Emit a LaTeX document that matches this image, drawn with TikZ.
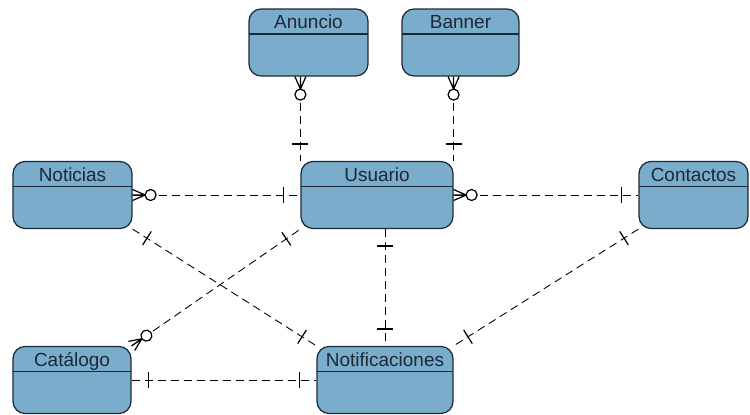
\documentclass[tikz,border=0pt]{standalone}
\usepackage{fontspec}
\setmainfont{Liberation Sans}
\usetikzlibrary{decorations.markings}
\definecolor{erblue}{RGB}{122,172,204}
\definecolor{erink}{RGB}{28,40,56}
\begin{document}
\begin{tikzpicture}[x=0.02cm,y=-0.02cm,
  entity/.style={draw=erink,fill=erblue,line width=0.7pt,rounded corners=0.24cm,
    minimum height=1.34cm,inner sep=0pt,text height=0.4cm,text depth=0.94cm,
    font=\fontsize{10.8}{12}\selectfont,text=erink,
    path picture={\draw[erink,line width=0.7pt]
      ([yshift=-0.5cm]path picture bounding box.north west)--([yshift=-0.5cm]path picture bounding box.north east);}},
  rel/.style={dash pattern=on 0.16cm off 0.1cm,line width=0.5pt},
  manystart/.style={postaction={decorate,decoration={markings,
      mark=at position 0.25cm with {\draw[solid,line width=0.7pt] (-0.25cm,0.11cm)--(0,0)--(-0.25cm,-0.11cm) (-0.25cm,0)--(0,0);
        \draw[solid,line width=0.7pt,fill=white] (0.11cm,0) circle (0.11cm);}}}},
  onestart/.style={postaction={decorate,decoration={markings,
      mark=at position 0.34cm with {\draw[solid,line width=0.7pt] (0,-0.16cm)--(0,0.16cm);}}}},
  oneend/.style={postaction={decorate,decoration={markings,
      mark=at position -0.34cm with {\draw[solid,line width=0.7pt] (0,-0.16cm)--(0,0.16cm);}}}}]
  \useasboundingbox (0,0) rectangle (750,415);
  \node[entity,minimum width=2.38cm] (anuncio) at (308.5,42.5) {Anuncio};
  \node[entity,minimum width=2.34cm] (banner) at (460.5,42.5) {Banner};
  \node[entity,minimum width=2.38cm] (noticias) at (72.5,195) {Noticias};
  \node[entity,minimum width=3.04cm] (usuario) at (377,195) {Usuario};
  \node[entity,minimum width=2.18cm] (contactos) at (693.5,195) {Contactos};
  \node[entity,minimum width=2.36cm] (catalogo) at (72,380) {Catálogo};
  \node[entity,minimum width=2.72cm] (notif) at (385,380) {Notificaciones};
  \draw[rel,manystart,oneend] (anuncio.south -| usuario.north west) -- (usuario.north west);
  \draw[rel,manystart,oneend] (banner.south -| usuario.north east) -- (usuario.north east);
  \draw[rel,manystart,oneend] (noticias.east) -- (usuario.west);
  \draw[rel,manystart,oneend] (usuario.east) -- (contactos.west);
  \draw[rel,onestart,oneend] (usuario.south -| notif.north) -- (notif.north);
  \draw[rel,onestart,oneend] (noticias.south east) -- (notif.north west);
  \draw[rel,manystart,oneend] (catalogo.north east) -- (usuario.south west);
  \draw[rel,onestart,oneend] (contactos.south west) -- (notif.north east);
  \draw[rel,onestart,oneend] (catalogo.east) -- (notif.west);
\end{tikzpicture}
\end{document}
